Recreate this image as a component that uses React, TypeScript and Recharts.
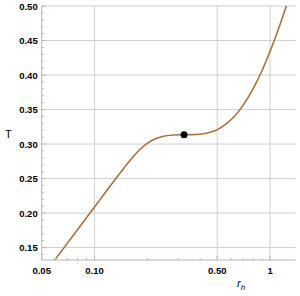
import { LineChart, Line, XAxis, YAxis, ReferenceLine, ReferenceDot } from "recharts";

// r_h and T
const R_H = [0.0562, 0.0631, 0.0708, 0.0794, 0.0891, 0.1, 0.1122, 0.1259, 0.1413, 0.1585, 0.1778, 0.1995, 0.2239, 0.2512, 0.2818, 0.3162, 0.3548, 0.3981, 0.4467, 0.5012, 0.5623, 0.631, 0.7079, 0.7943, 0.8913, 1.0, 1.122, 1.259, 1.413];
const TEMP = [0.124, 0.141, 0.1579, 0.1748, 0.1917, 0.2088, 0.2258, 0.2428, 0.2595, 0.2755, 0.29, 0.301, 0.308, 0.3117, 0.3132, 0.3135, 0.3136, 0.3143, 0.3164, 0.3209, 0.3292, 0.341, 0.3575, 0.3785, 0.404, 0.434, 0.468, 0.506, 0.548];

// critical point
const CRIT_R = 0.3236;
const CRIT_T = 0.3135;

const X_MAJOR = [0.05, 0.1, 0.5, 1];
const X_TICKS = [0.05, 0.06, 0.07, 0.08, 0.09, 0.1, 0.2, 0.3, 0.4, 0.5, 0.6, 0.7, 0.8, 0.9, 1];
const Y_MAJOR = [0.15, 0.2, 0.25, 0.3, 0.35, 0.4, 0.45, 0.5];
const Y_TICKS = [0.14, 0.15, 0.16, 0.17, 0.18, 0.19, 0.2, 0.21, 0.22, 0.23, 0.24, 0.25, 0.26, 0.27, 0.28, 0.29, 0.3, 0.31, 0.32, 0.33, 0.34, 0.35, 0.36, 0.37, 0.38, 0.39, 0.4, 0.41, 0.42, 0.43, 0.44, 0.45, 0.46, 0.47, 0.48, 0.49, 0.5];

const data = R_H.map((r, i) => ({ r, T: TEMP[i] }));

const FRAME = "#b4b4b4";
const GRID = "#cfcfcf";
const CURVE = "#a8733a";
const FONT = "'Liberation Sans', Arial, sans-serif";

const isMajor = (v: number, list: number[]) => list.some((m) => Math.abs(m - v) < 1e-6);
const fmtX = (v: number) => (v === 1 ? "1" : v.toFixed(2));

const labelStyle = { fontFamily: FONT, fontSize: 9.5, fontWeight: 700, fill: "#000" };

function BottomTick(props: any) {
  const { x, y, payload } = props;
  const major = isMajor(payload.value, X_MAJOR);
  return (
    <g>
      <line x1={x} x2={x} y1={y} y2={y - (major ? 4 : 2)} stroke={FRAME} />
      {major && (
        <text x={x} y={y + 14} textAnchor="middle" style={labelStyle}>
          {fmtX(payload.value)}
        </text>
      )}
    </g>
  );
}

function TopTick(props: any) {
  const { x, y, payload } = props;
  const major = isMajor(payload.value, X_MAJOR);
  return <line x1={x} x2={x} y1={y} y2={y + (major ? 4 : 2)} stroke={FRAME} />;
}

function LeftTick(props: any) {
  const { x, y, payload } = props;
  const major = isMajor(payload.value, Y_MAJOR);
  return (
    <g>
      <line x1={x} x2={x + (major ? 4 : 2)} y1={y} y2={y} stroke={FRAME} />
      {major && (
        <text x={x - 4} y={y + 3.5} textAnchor="end" style={labelStyle}>
          {payload.value.toFixed(2)}
        </text>
      )}
    </g>
  );
}

function RightTick(props: any) {
  const { x, y, payload } = props;
  const major = isMajor(payload.value, Y_MAJOR);
  return <line x1={x} x2={x - (major ? 4 : 2)} y1={y} y2={y} stroke={FRAME} />;
}

export default function App() {
  return (
    <div style={{ position: "absolute", left: 0, top: 0, width: 300, height: 296, background: "#fff" }}>
      <LineChart width={300} height={296} data={data} margin={{ top: 6, right: 4.3, bottom: 0, left: 0 }}>
        <XAxis
          dataKey="r"
          type="number"
          scale="log"
          domain={[0.05, 1.4]}
          allowDataOverflow
          ticks={X_TICKS}
          interval={0}
          height={36}
          tickSize={0}
          tickMargin={0}
          tickLine={false}
          tick={BottomTick}
          axisLine={{ stroke: FRAME }}
        />
        <XAxis
          xAxisId="top"
          orientation="top"
          dataKey="r"
          type="number"
          scale="log"
          domain={[0.05, 1.4]}
          allowDataOverflow
          ticks={X_TICKS}
          interval={0}
          height={0}
          tickSize={0}
          tickMargin={0}
          tickLine={false}
          tick={TopTick}
          axisLine={{ stroke: FRAME }}
        />
        <YAxis
          type="number"
          domain={[0.132, 0.5]}
          allowDataOverflow
          ticks={Y_TICKS}
          interval={0}
          width={41.7}
          tickSize={0}
          tickMargin={0}
          tickLine={false}
          tick={LeftTick}
          axisLine={{ stroke: FRAME }}
        />
        <YAxis
          yAxisId="right"
          orientation="right"
          type="number"
          domain={[0.132, 0.5]}
          allowDataOverflow
          ticks={Y_TICKS}
          interval={0}
          width={0}
          tickSize={0}
          tickMargin={0}
          tickLine={false}
          tick={RightTick}
          axisLine={{ stroke: FRAME }}
        />
        {X_MAJOR.slice(1).map((v) => (
          <ReferenceLine key={`x${v}`} x={v} stroke={GRID} strokeWidth={1} />
        ))}
        {Y_MAJOR.map((v) => (
          <ReferenceLine key={`y${v}`} y={v} stroke={GRID} strokeWidth={1} />
        ))}
        <Line
          type="monotone"
          dataKey="T"
          stroke={CURVE}
          strokeWidth={1.6}
          dot={false}
          isAnimationActive={false}
        />
        <ReferenceDot x={CRIT_R} y={CRIT_T} r={3.5} fill="#000" stroke="none" />
      </LineChart>
      <div style={{ position: "absolute", left: 5, top: 128, fontFamily: FONT, fontSize: 11, color: "#000" }}>T</div>
      <div style={{ position: "absolute", left: 237, top: 277, fontFamily: FONT, fontSize: 11, fontStyle: "italic", color: "#000" }}>
        r<sub style={{ fontSize: 8, color: "#000" }}>h</sub>
      </div>
    </div>
  );
}
